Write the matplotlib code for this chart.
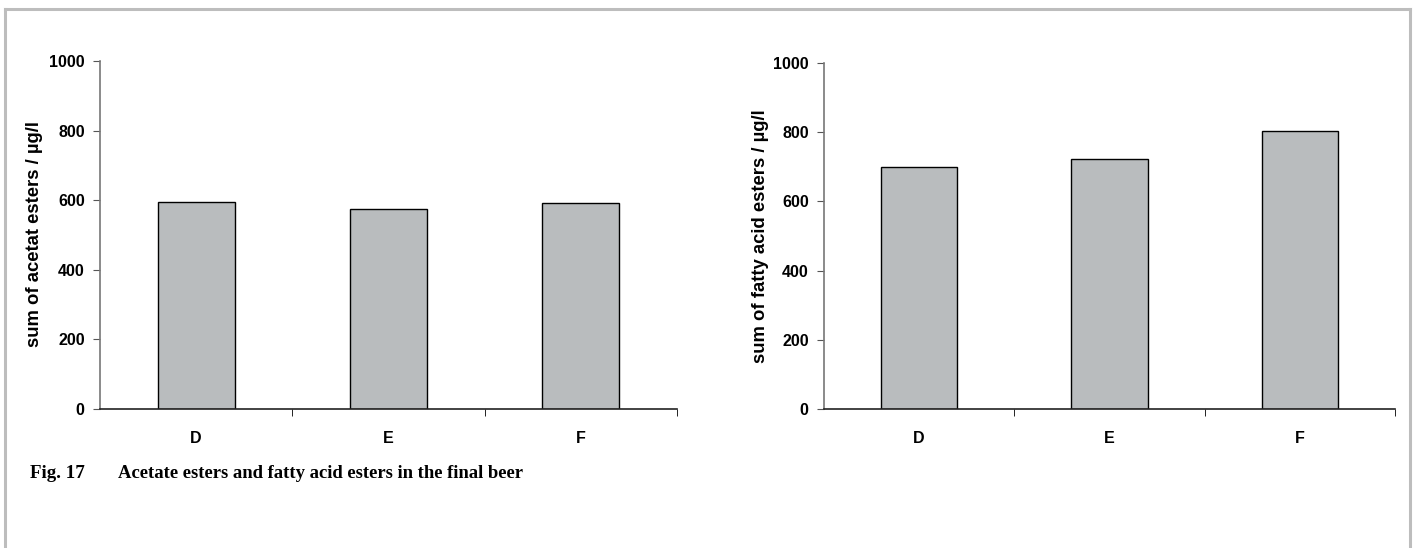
import matplotlib.pyplot as plt
import numpy as np

# data
samples = ["D", "E", "F"]
acetate = [596, 576, 592]
fatty = [699, 722, 804]
ylabels = ["sum of acetat esters / µg/l", "sum of fatty acid esters / µg/l"]
caption_no = "Fig. 17"
caption = "Acetate esters and fatty acid esters in the final beer"

W, H = 1415, 548
fig = plt.figure(figsize=(W / 100, H / 100), dpi=100)

# grey frame round the figure (open at the bottom)
frame_col = "#bdbdbd"
fig.add_artist(plt.Line2D([5 / W, 5 / W], [0, 1 - 9 / H], color=frame_col, lw=2.2))
fig.add_artist(plt.Line2D([1410 / W, 1410 / W], [0, 1 - 9 / H], color=frame_col, lw=2.2))
fig.add_artist(plt.Line2D([5 / W, 1410 / W], [1 - 9 / H, 1 - 9 / H], color=frame_col, lw=2.2))


def px_axes(x0, x1, ytop, ybot):
    return fig.add_axes([x0 / W, 1 - ybot / H, (x1 - x0) / W, (ybot - ytop) / H])


axl = px_axes(100, 677, 61, 409)
axr = px_axes(824, 1395, 63, 409)

font = "Liberation Sans"
x = np.arange(len(samples))
for ax, vals, lab, lx, ly in [(axl, acetate, ylabels[0], 35, 234), (axr, fatty, ylabels[1], 760, 236)]:
    ax.bar(x, vals, width=0.4, color="#b9bcbe", edgecolor="black", linewidth=1.0, zorder=2)
    ax.set_xlim(-0.5, 2.5)
    ax.set_ylim(0, 1000)
    ax.set_yticks([0, 200, 400, 600, 800, 1000])
    ax.set_xticks(x)
    ax.set_xticklabels(samples)
    ax.set_xticks([0.5, 1.5, 2.5], minor=True)
    ax.tick_params(axis="x", which="major", length=0, pad=16)
    ax.tick_params(axis="x", which="minor", length=5, direction="out", color="black")
    ax.tick_params(axis="y", length=5, direction="out", color="#555555", pad=6)
    for t in ax.get_xticklabels() + ax.get_yticklabels():
        t.set_fontfamily(font)
        t.set_fontweight("bold")
        t.set_fontsize(11.5)
    for s in ["top", "right"]:
        ax.spines[s].set_visible(False)
    ax.spines["left"].set_color("#777777")
    ax.spines["left"].set_linewidth(1.2)
    ax.spines["bottom"].set_color("#222222")
    ax.spines["bottom"].set_linewidth(1.2)
    fig.text(lx / W, 1 - ly / H, lab, rotation=90, ha="center", va="center",
             fontfamily=font, fontweight="bold", fontsize=13.3)

fig.text(30 / W, 1 - 478 / H, caption_no, ha="left", va="baseline",
         fontfamily="Liberation Serif", fontweight="bold", fontsize=13.7)
fig.text(118 / W, 1 - 478 / H, caption, ha="left", va="baseline",
         fontfamily="Liberation Serif", fontweight="bold", fontsize=13.4)

fig.savefig("out.png", dpi=100)
